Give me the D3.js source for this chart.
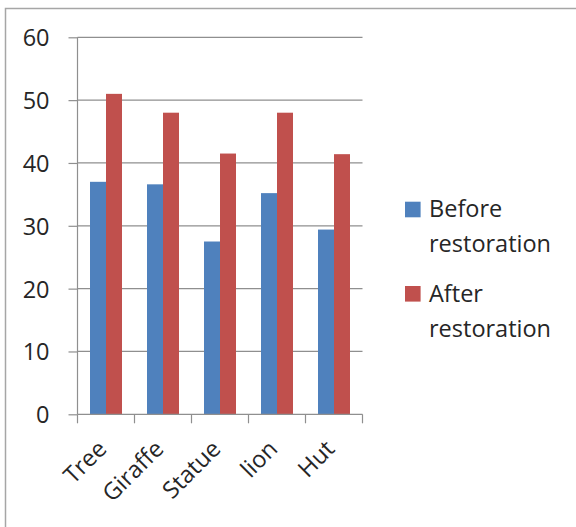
<!DOCTYPE html>
<html>
<head>
<meta charset="utf-8">
<script src="https://cdn.jsdelivr.net/npm/d3@7"></script>
<style>
  html, body { margin: 0; padding: 0; background: #fff; }
  svg { display: block; }
  text { font-family: "Open Sans", "Noto Sans", sans-serif; fill: #262626; }
</style>
</head>
<body>
<svg id="chart" width="576" height="527"></svg>
<script>
// Chart data
const categories = ["Tree", "Giraffe", "Statue", "lion", "Hut"];
const seriesNames = ["Before restoration", "After restoration"];
const beforeValues = [37.0, 36.6, 27.5, 35.2, 29.4];
const afterValues = [51.0, 48.0, 41.5, 48.0, 41.4];
const yTicks = [0, 10, 20, 30, 40, 50, 60];
const seriesColors = ["#4F81BD", "#C0504D"];

const svg = d3.select("#chart");
const fontSize = "23.5px";

// Outer frame of the chart area
svg.append("rect")
  .attr("x", 5.5).attr("y", 8.5)
  .attr("width", 600).attr("height", 600)
  .attr("fill", "none").attr("stroke", "#a6a6a6").attr("stroke-width", 1.5);

const plot = { left: 77.5, right: 362.5, top: 37.3, bottom: 414.3 };

const x = d3.scaleBand().domain(categories).range([plot.left, plot.right]).paddingInner(0).paddingOuter(0);
const xInner = d3.scaleBand().domain([0, 1]).range([0, 32]);
const y = d3.scaleLinear().domain([0, 60]).range([plot.bottom, plot.top]);

const gridColor = "#8f8f8f";

// Horizontal gridlines
svg.append("g").selectAll("line").data(yTicks.filter(d => d > 0)).join("line")
  .attr("x1", plot.left).attr("x2", plot.right)
  .attr("y1", d => y(d)).attr("y2", d => y(d))
  .attr("stroke", gridColor).attr("stroke-width", 1.2);

// Bars
const groupOffset = (x.bandwidth() - 32) / 2;
const groups = svg.append("g").selectAll("g").data(categories).join("g")
  .attr("transform", c => `translate(${x(c) + groupOffset},0)`);
groups.append("rect")
  .attr("x", xInner(0)).attr("width", xInner.bandwidth())
  .attr("y", (c, i) => y(beforeValues[i]))
  .attr("height", (c, i) => y(0) - y(beforeValues[i]))
  .attr("fill", seriesColors[0]);
groups.append("rect")
  .attr("x", xInner(1)).attr("width", xInner.bandwidth())
  .attr("y", (c, i) => y(afterValues[i]))
  .attr("height", (c, i) => y(0) - y(afterValues[i]))
  .attr("fill", seriesColors[1]);

// Y axis
const yAxis = svg.append("g")
  .attr("transform", `translate(${plot.left},0)`)
  .call(d3.axisLeft(y).tickValues(yTicks).tickSize(9).tickPadding(19));
yAxis.select(".domain").attr("stroke", gridColor).attr("stroke-width", 1.2)
  .attr("d", `M0,${plot.top}V${plot.bottom}`);
yAxis.selectAll(".tick line").attr("stroke", gridColor).attr("stroke-width", 1.2);
yAxis.selectAll(".tick text").style("font-size", fontSize).attr("fill", "#262626")
  .attr("dy", "0.36em");

// X axis with boundary ticks between categories
const xAxis = svg.append("g").attr("transform", `translate(0,${plot.bottom})`);
xAxis.append("line")
  .attr("x1", plot.left).attr("x2", plot.right)
  .attr("stroke", gridColor).attr("stroke-width", 1.2);
const boundaries = categories.map(c => x(c)).concat([x(categories[categories.length - 1]) + x.bandwidth()]);
xAxis.selectAll("line.bound").data(boundaries).join("line").attr("class", "bound")
  .attr("x1", d => d).attr("x2", d => d).attr("y1", 0).attr("y2", 9)
  .attr("stroke", gridColor).attr("stroke-width", 1.2);
xAxis.selectAll("text").data(categories).join("text")
  .attr("transform", c => `translate(${x(c) + x.bandwidth() / 2 + 2},${36}) rotate(-45)`)
  .attr("text-anchor", "end")
  .style("font-size", fontSize)
  .text(c => c);

// Legend
const legend = svg.append("g");
const legendItems = [
  { color: seriesColors[0], lines: ["Before", "restoration"], top: 201.7 },
  { color: seriesColors[1], lines: ["After", "restoration"], top: 286 }
];
legendItems.forEach((item, i) => {
  legend.append("rect")
    .attr("x", 405).attr("y", item.top).attr("width", 15.6).attr("height", 15.6)
    .attr("fill", item.color);
  const t = legend.append("text").attr("x", 429).attr("y", item.top + 15.6)
    .style("font-size", fontSize);
  item.lines.forEach((ln, j) => {
    t.append("tspan").attr("x", 429).attr("dy", j === 0 ? 0 : 35).text(ln);
  });
});
</script>
</body>
</html>
